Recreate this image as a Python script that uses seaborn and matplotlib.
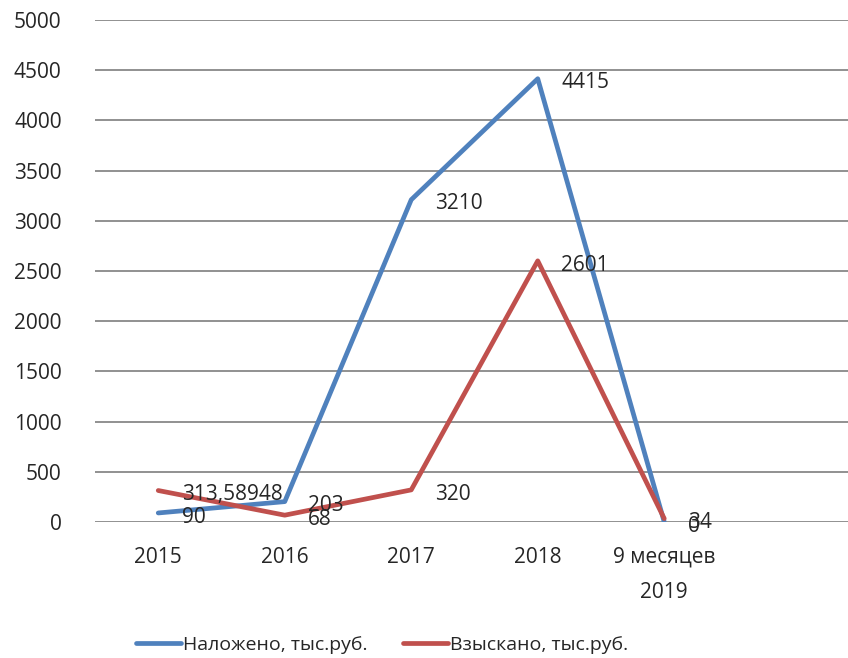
import matplotlib
matplotlib.use("Agg")
import matplotlib.pyplot as plt
import seaborn as sns
import pandas as pd

# Данные
periods = ["2015", "2016", "2017", "2018", "9 месяцев\n2019"]
nalozheno = [90, 203, 3210, 4415, 0]
vzyskano = [313.58948, 68, 320, 2601, 34]
labels_nal = ["90", "203", "3210", "4415", "0"]
labels_vz = ["313,58948", "68", "320", "2601", "34"]

series_names = ["Наложено, тыс.руб.", "Взыскано, тыс.руб."]
colors = ["#4F81BD", "#C0504D"]

df = pd.DataFrame({
    "period": periods * 2,
    "value": nalozheno + vzyskano,
    "series": [series_names[0]] * len(periods) + [series_names[1]] * len(periods),
})

sns.set_style("white")
plt.rcParams["font.family"] = ["Open Sans", "DejaVu Sans"]

fig = plt.figure(figsize=(8.48, 6.58), dpi=100)
ax = fig.add_axes([95 / 848, 136 / 658, 759 / 848, 502 / 658])

sns.lineplot(data=df, x="period", y="value", hue="series", palette=colors,
             linewidth=3.4, ax=ax, sort=False)

ax.set_xlim(-0.5, 5.5)
ax.set_ylim(0, 5000)
ax.set_yticks(range(0, 5001, 500))
ax.grid(axis="y", color="#888888", linewidth=1.3)
ax.set_axisbelow(True)
for s in ax.spines.values():
    s.set_visible(False)
ax.tick_params(axis="y", length=0, pad=24, labelsize=15)
ax.tick_params(axis="x", length=0, pad=18, labelsize=15)
for lbl in ax.get_xticklabels():
    lbl.set_linespacing(1.9)
ax.set_xlabel("")
ax.set_ylabel("")

# Подписи данных справа от точек
for vals, labs in [(nalozheno, labels_nal), (vzyskano, labels_vz)]:
    for i, (v, t) in enumerate(zip(vals, labs)):
        ax.annotate(t, (i, v), xytext=(17, -3), textcoords="offset points",
                    ha="left", va="center", fontsize=15)

handles, names = ax.get_legend_handles_labels()
ax.get_legend().remove()
fig.legend(handles, names, loc="center", bbox_to_anchor=(382 / 848, 1 - 645 / 658),
           ncol=2, frameon=False, fontsize=14, handlelength=2.3,
           handletextpad=0.1, columnspacing=1.85)

fig.savefig("out.png", dpi=100)
